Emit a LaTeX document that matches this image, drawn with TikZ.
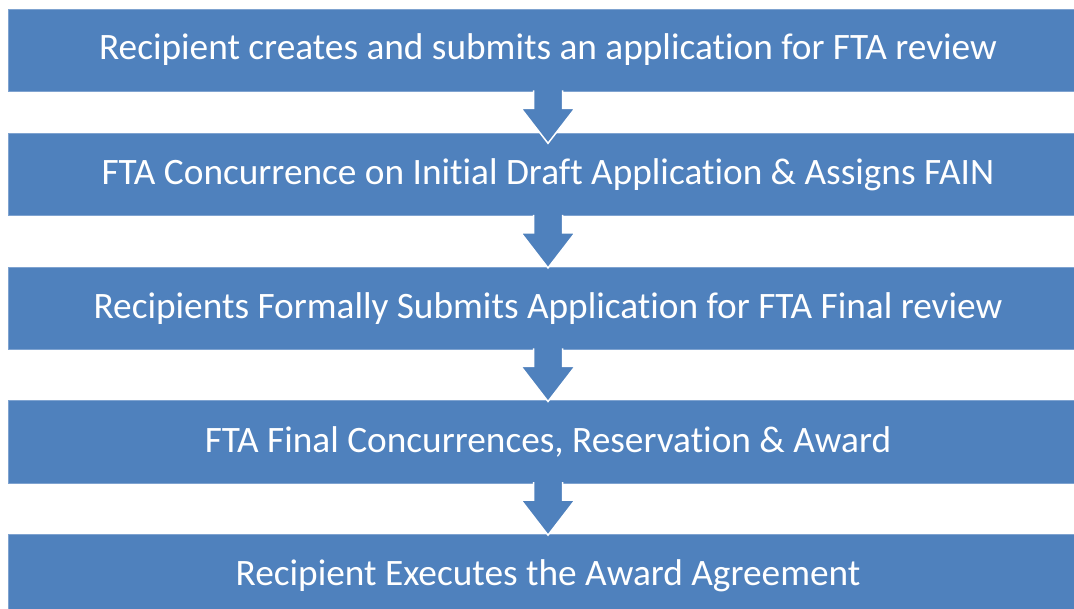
\documentclass[tikz,border=0pt]{standalone}
\usepackage{fontspec}
\setmainfont{Carlito}[Ligatures=NoCommon]
\usetikzlibrary{calc,positioning}
\definecolor{Blue}{HTML}{4F81BD}
\definecolor{BlueEdge}{HTML}{7FA3D0}
\tikzset{stepbox/.style={fill=Blue,draw=BlueEdge,line width=.6pt,minimum width=1080pt,minimum height=82pt,inner sep=0pt,text=white,font=\fontsize{37.3}{41}\selectfont},down/.style={fill=Blue,draw=white,line width=1.5pt}}

\begin{document}
\begin{tikzpicture}[x=1pt,y=1pt,node distance=51pt]
      \useasboundingbox(0,0)rectangle(1074,-609);
      \clip(0,0)rectangle(1074,-609);
      \node[stepbox](submit)at(548,-50){Recipient creates and submits an application for FTA review};
      \node[stepbox,below=42pt of submit](concur){FTA Concurrence on Initial Draft Application \& Assigns FAIN};
      \node[stepbox,below=of concur](formal){Recipients Formally Submits Application for FTA Final review};
      \node[stepbox,below=of formal](final){FTA Final Concurrences, Reservation \& Award};
      \node[stepbox,below=of final](execute){Recipient Executes the Award Agreement};
      \foreach \a in {submit,concur,formal,final}
        \filldraw[down]($(\a.south)+(-14.5,1)$)--++(0,-18)--++(-12.5,0)--++(27,-35)--++(27,35)--++(-12.5,0)--++(0,18);
    \end{tikzpicture}
\end{document}
